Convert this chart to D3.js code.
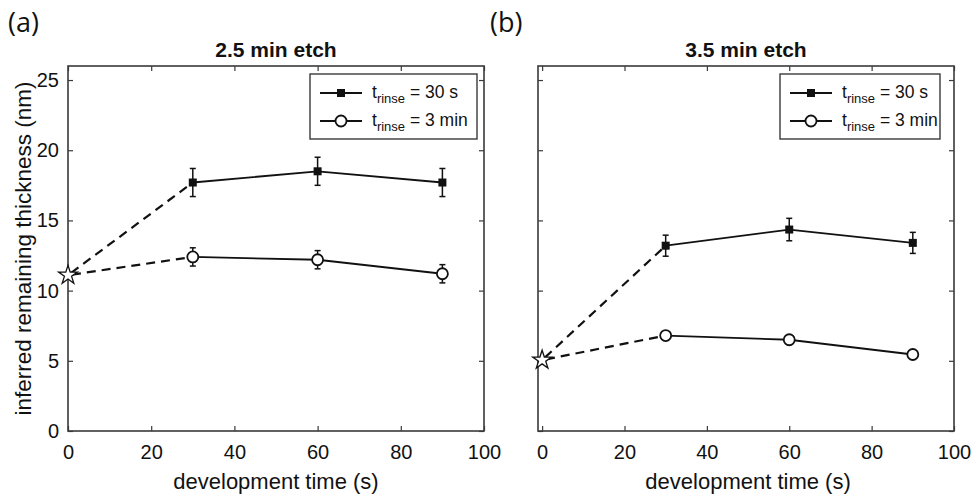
<!DOCTYPE html>
<html>
<head>
<meta charset="utf-8">
<script src="https://cdn.jsdelivr.net/npm/d3@7"></script>
<style>
  body { margin: 0; background: #fff; }
  svg text { font-family: "Liberation Sans", Arial, sans-serif; fill: #111; }
</style>
</head>
<body>
<svg id="chart" width="971" height="496"></svg>
<script>
// development times (s) for the rinsed samples
var devTimes = [30, 60, 90]
var xTicks = [0, 20, 40, 60, 80, 100]
var yTicks = [0, 5, 10, 15, 20, 25]

// 2.5 min etch
var etch25Start = 11.1
var etch25Rinse30 = [17.7, 18.5, 17.7]
var etch25Rinse30Err = [1.0, 1.0, 1.0]
var etch25Rinse3 = [12.4, 12.2, 11.2]
var etch25Rinse3Err = [0.65, 0.65, 0.65]

// 3.5 min etch
var etch35Start = 5.05
var etch35Rinse30 = [13.2, 14.35, 13.4]
var etch35Rinse30Err = [0.75, 0.8, 0.75]
var etch35Rinse3 = [6.8, 6.5, 5.45]
var etch35Rinse3Err = [0.15, 0.15, 0.15]

var panels = [
  {label: '(a)', title: '2.5 min etch', start: etch25Start,
   r30: etch25Rinse30, r30e: etch25Rinse30Err, r3: etch25Rinse3, r3e: etch25Rinse3Err,
   left: 68, right: 484, xmin: 0, legendX: 310, legendW: 167, yLabels: true, labelX: 8},
  {label: '(b)', title: '3.5 min etch', start: etch35Start,
   r30: etch35Rinse30, r30e: etch35Rinse30Err, r3: etch35Rinse3, r3e: etch35Rinse3Err,
   left: 538, right: 954, xmin: -1, legendX: 780, legendW: 160, yLabels: false, labelX: 490}
]

var svg = d3.select('#chart')
var plotTop = 66, plotBottom = 431
var axisColor = '#3a3a3a'

panels.forEach(function (p) {
  var x = d3.scaleLinear().domain([p.xmin, 100]).range([p.left, p.right])
  var y = d3.scaleLinear().domain([0, 26]).range([plotBottom, plotTop])
  var g = svg.append('g')

  svg.append('text').attr('x', p.labelX).attr('y', 32)
    .style('font-family', '"Open Sans", "Noto Sans", sans-serif')
    .style('font-size', '27px').text(p.label)

  svg.append('text').attr('x', (p.left + p.right) / 2).attr('y', 57)
    .attr('text-anchor', 'middle').style('font-size', '21px').style('font-weight', 'bold')
    .text(p.title)

  // axes, MATLAB style ticks pointing inward on every side
  var styleAxis = function (sel) {
    sel.selectAll('.domain').remove()
    sel.selectAll('line').attr('stroke', axisColor).attr('stroke-width', 1.2)
    sel.selectAll('text').style('font-size', '20px').style('fill', '#111')
  }
  g.append('g').attr('transform', 'translate(0,' + plotBottom + ')')
    .call(d3.axisBottom(x).tickValues(xTicks).tickSize(-5).tickPadding(14))
    .call(styleAxis)
  g.append('g').attr('transform', 'translate(0,' + plotTop + ')')
    .call(d3.axisTop(x).tickValues(xTicks).tickSize(-5).tickFormat(''))
    .call(styleAxis)
  g.append('g').attr('transform', 'translate(' + p.left + ',0)')
    .call(d3.axisLeft(y).tickValues(yTicks).tickSize(-5).tickPadding(9)
      .tickFormat(p.yLabels ? d3.format('d') : ''))
    .call(styleAxis)
  g.append('g').attr('transform', 'translate(' + p.right + ',0)')
    .call(d3.axisRight(y).tickValues(yTicks).tickSize(-5).tickFormat(''))
    .call(styleAxis)
  g.append('rect').attr('x', p.left).attr('y', plotTop)
    .attr('width', p.right - p.left).attr('height', plotBottom - plotTop)
    .attr('fill', 'none').attr('stroke', axisColor).attr('stroke-width', 1.6)

  g.append('text').attr('x', (x(0) + x(100)) / 2).attr('y', 489)
    .attr('text-anchor', 'middle').style('font-size', '22px').text('development time (s)')

  if (p.yLabels) {
    g.append('text').attr('transform', 'translate(31,' + (plotTop + plotBottom) / 2 + ') rotate(-90)')
      .attr('text-anchor', 'middle').style('font-size', '22.5px')
      .text('inferred remaining thickness (nm)')
  }

  var line = d3.line().x(function (d) { return x(d[0]) }).y(function (d) { return y(d[1]) })

  // dashed lines from the unrinsed start value
  ;[p.r30, p.r3].forEach(function (vals) {
    g.append('path').attr('d', line([[0, p.start], [devTimes[0], vals[0]]]))
      .attr('fill', 'none').attr('stroke', '#111').attr('stroke-width', 2.2)
      .attr('stroke-dasharray', '9,6').attr('stroke-dashoffset', -4)
  })

  var series = [
    {vals: p.r30, err: p.r30e, kind: 'square'},
    {vals: p.r3, err: p.r3e, kind: 'circle'}
  ]
  series.forEach(function (s) {
    var pts = devTimes.map(function (t, i) { return [t, s.vals[i], s.err[i]] })
    g.append('path').attr('d', line(pts))
      .attr('fill', 'none').attr('stroke', '#111').attr('stroke-width', 1.8)

    var eb = g.selectAll(null).data(pts).enter().append('g')
    eb.append('line')
      .attr('x1', function (d) { return x(d[0]) }).attr('x2', function (d) { return x(d[0]) })
      .attr('y1', function (d) { return y(d[1] - d[2]) }).attr('y2', function (d) { return y(d[1] + d[2]) })
      .attr('stroke', '#111').attr('stroke-width', 1.5)
    ;[-1, 1].forEach(function (sgn) {
      eb.append('line')
        .attr('x1', function (d) { return x(d[0]) - 3 }).attr('x2', function (d) { return x(d[0]) + 3 })
        .attr('y1', function (d) { return y(d[1] + sgn * d[2]) })
        .attr('y2', function (d) { return y(d[1] + sgn * d[2]) })
        .attr('stroke', '#111').attr('stroke-width', 1.5)
    })

    if (s.kind === 'square') {
      g.selectAll(null).data(pts).enter().append('rect')
        .attr('x', function (d) { return x(d[0]) - 4 }).attr('y', function (d) { return y(d[1]) - 4 })
        .attr('width', 8).attr('height', 8).attr('fill', '#111')
    } else {
      g.selectAll(null).data(pts).enter().append('circle')
        .attr('cx', function (d) { return x(d[0]) }).attr('cy', function (d) { return y(d[1]) })
        .attr('r', 5.5).attr('fill', '#fff').attr('stroke', '#111').attr('stroke-width', 1.8)
    }
  })

  g.append('path').attr('d', d3.symbol().type(d3.symbolStar).size(110)())
    .attr('transform', 'translate(' + x(0) + ',' + y(p.start) + ')')
    .attr('fill', '#fff').attr('stroke', '#111').attr('stroke-width', 1.3)

  // legend
  var lg = g.append('g').attr('transform', 'translate(' + p.legendX + ',74)')
  lg.append('rect').attr('width', p.legendW).attr('height', 65)
    .attr('fill', '#fff').attr('stroke', axisColor).attr('stroke-width', 1.4)
  var entries = [{kind: 'square', txt: '= 30 s'}, {kind: 'circle', txt: '= 3 min'}]
  entries.forEach(function (e, i) {
    var cy = 19 + i * 28
    lg.append('line').attr('x1', 10).attr('x2', 52).attr('y1', cy).attr('y2', cy)
      .attr('stroke', '#111').attr('stroke-width', 1.8)
    if (e.kind === 'square') {
      lg.append('rect').attr('x', 27).attr('y', cy - 4).attr('width', 8).attr('height', 8).attr('fill', '#111')
    } else {
      lg.append('circle').attr('cx', 31).attr('cy', cy).attr('r', 5.5)
        .attr('fill', '#fff').attr('stroke', '#111').attr('stroke-width', 1.8)
    }
    var t = lg.append('text').attr('x', 62).attr('y', cy + 5).style('font-size', '17.5px')
    t.append('tspan').text('t')
    t.append('tspan').attr('dy', 5).style('font-size', '13px').text('rinse')
    t.append('tspan').attr('dy', -5).text(' ' + e.txt)
  })
})
</script>
</body>
</html>
